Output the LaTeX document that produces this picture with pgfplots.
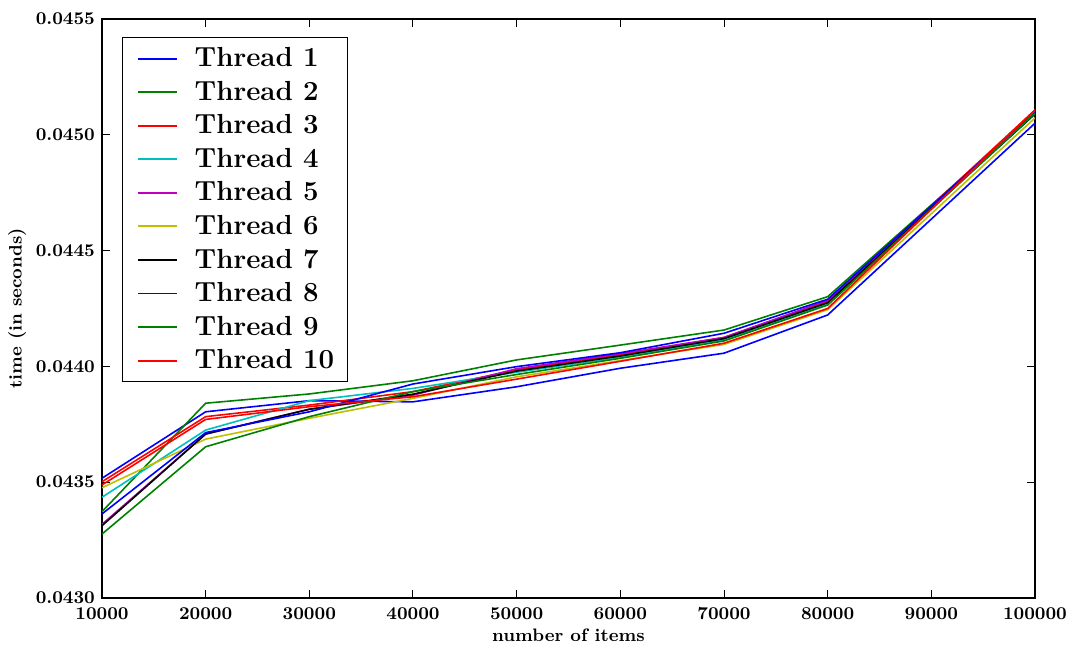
\documentclass[border=0pt]{standalone}
\usepackage{pgfplots}
\pgfplotsset{compat=1.18}
\definecolor{cblue}{rgb}{0,0,1}
\definecolor{cgreen}{rgb}{0,0.5,0}
\definecolor{cred}{rgb}{1,0,0}
\definecolor{ccyan}{rgb}{0,0.75,0.75}
\definecolor{cmag}{rgb}{0.75,0,0.75}
\definecolor{cyel}{rgb}{0.75,0.75,0}
\definecolor{cblk}{rgb}{0,0,0}
\begin{document}
\begin{tikzpicture}
\begin{axis}[
  name=ax,
  scale only axis,
  width=466.5pt, height=289.5pt,
  xmin=10000, xmax=100000,
  ymin=0.0430, ymax=0.0455,
  xtick={10000,20000,...,100000},
  ytick={0.0430,0.0435,0.0440,0.0445,0.0450,0.0455},
  scaled ticks=false,
  x tick label style={/pgf/number format/.cd, set thousands separator={}, fixed, /tikz/.cd, yshift=-1.5pt, inner xsep=0pt},
  y tick label style={/pgf/number format/.cd, fixed, fixed zerofill, precision=4},
  tick label style={font=\boldmath\bfseries\fontsize{8.6}{10}\selectfont},
  label style={font=\bfseries\fontsize{9}{11}\selectfont},
  xlabel={number of items},
  ylabel={time (in seconds)},
  xlabel style={inner sep=1pt, yshift=0pt},
  ylabel style={yshift=-2pt},
  tick align=inside,
  major tick length=4pt,
  axis line style={line width=0.6pt},
  every tick/.style={black, line width=0.5pt},
  legend style={at={(0.0214,0.969)}, anchor=north west, draw=black, line width=0.6pt,
    font=\bfseries\fontsize{13.8}{16}\selectfont, row sep=1.7pt,
    inner xsep=4.5pt, inner ysep=3pt},
  legend cell align=left,
  legend image code/.code={\path[draw=none,fill=none] (0cm,0cm) -- (1.04cm,0cm);
    \draw[#1, line width=0.9pt] (0.12cm,0cm) -- (0.79cm,0cm);},
  every axis plot/.append style={line width=0.8pt},
]
\addplot[cblue] coordinates {(10000,0.043517)(20000,0.043804)(30000,0.043852)(40000,0.043847)(50000,0.043912)(60000,0.043992)(70000,0.044057)(80000,0.044222)(100000,0.045050)};
\addlegendentry{Thread 1}
\addplot[cgreen] coordinates {(10000,0.043373)(20000,0.043841)(30000,0.043881)(40000,0.043938)(50000,0.044028)(60000,0.044092)(70000,0.044157)(80000,0.044301)(100000,0.045093)};
\addlegendentry{Thread 2}
\addplot[cred] coordinates {(10000,0.043502)(20000,0.043783)(30000,0.043833)(40000,0.043891)(50000,0.043985)(60000,0.044050)(70000,0.044125)(80000,0.044280)(100000,0.045107)};
\addlegendentry{Thread 3}
\addplot[ccyan] coordinates {(10000,0.043435)(20000,0.043725)(30000,0.043852)(40000,0.043905)(50000,0.043975)(60000,0.044040)(70000,0.044115)(80000,0.044270)(100000,0.045090)};
\addlegendentry{Thread 4}
\addplot[cmag] coordinates {(10000,0.043318)(20000,0.043708)(30000,0.043815)(40000,0.043876)(50000,0.043990)(60000,0.044055)(70000,0.044125)(80000,0.044285)(100000,0.045095)};
\addlegendentry{Thread 5}
\addplot[cyel] coordinates {(10000,0.043476)(20000,0.043686)(30000,0.043776)(40000,0.043862)(50000,0.043955)(60000,0.044025)(70000,0.044095)(80000,0.044245)(100000,0.045073)};
\addlegendentry{Thread 6}
\addplot[cblk] coordinates {(10000,0.043312)(20000,0.043708)(30000,0.043815)(40000,0.043880)(50000,0.043980)(60000,0.044045)(70000,0.044120)(80000,0.044275)(100000,0.045090)};
\addlegendentry{Thread 7}
\addplot[cblue] coordinates {(10000,0.043363)(20000,0.043714)(30000,0.043804)(40000,0.043924)(50000,0.043999)(60000,0.044059)(70000,0.044143)(80000,0.044290)(100000,0.045095)};
\addlegendentry{Thread 8}
\addplot[cgreen] coordinates {(10000,0.043276)(20000,0.043653)(30000,0.043783)(40000,0.043891)(50000,0.043965)(60000,0.044035)(70000,0.044110)(80000,0.044265)(100000,0.045093)};
\addlegendentry{Thread 9}
\addplot[cred] coordinates {(10000,0.043488)(20000,0.043771)(30000,0.043826)(40000,0.043869)(50000,0.043945)(60000,0.044022)(70000,0.044100)(80000,0.044250)(100000,0.045107)};
\addlegendentry{Thread 10}
\end{axis}
\path ([xshift=-51pt,yshift=-24pt]ax.south west) rectangle ([xshift=17pt,yshift=9.5pt]ax.north east);
\end{tikzpicture}
\end{document}
